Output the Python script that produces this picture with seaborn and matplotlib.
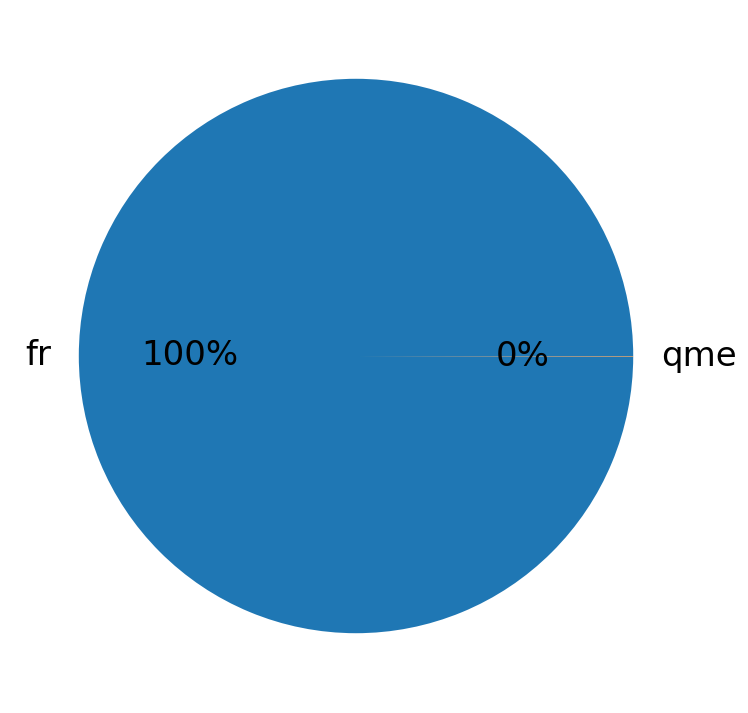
import matplotlib
matplotlib.use("Agg")
import matplotlib.pyplot as plt
import seaborn as sns

# language counts
labels = ["fr", "qme"]
counts = [4000, 1]

colors = sns.color_palette("tab10", 2)

fig = plt.figure(figsize=(7.48, 7.13), dpi=100)
ax = fig.add_axes([0.0127, 0.0147, 0.9265, 0.972])
ax.pie(counts, labels=labels, colors=colors, autopct='%1.0f%%',
       textprops={'fontsize': 24.5, 'color': 'black'})
ax.set_aspect('equal')

fig.savefig("out.png", dpi=100)
